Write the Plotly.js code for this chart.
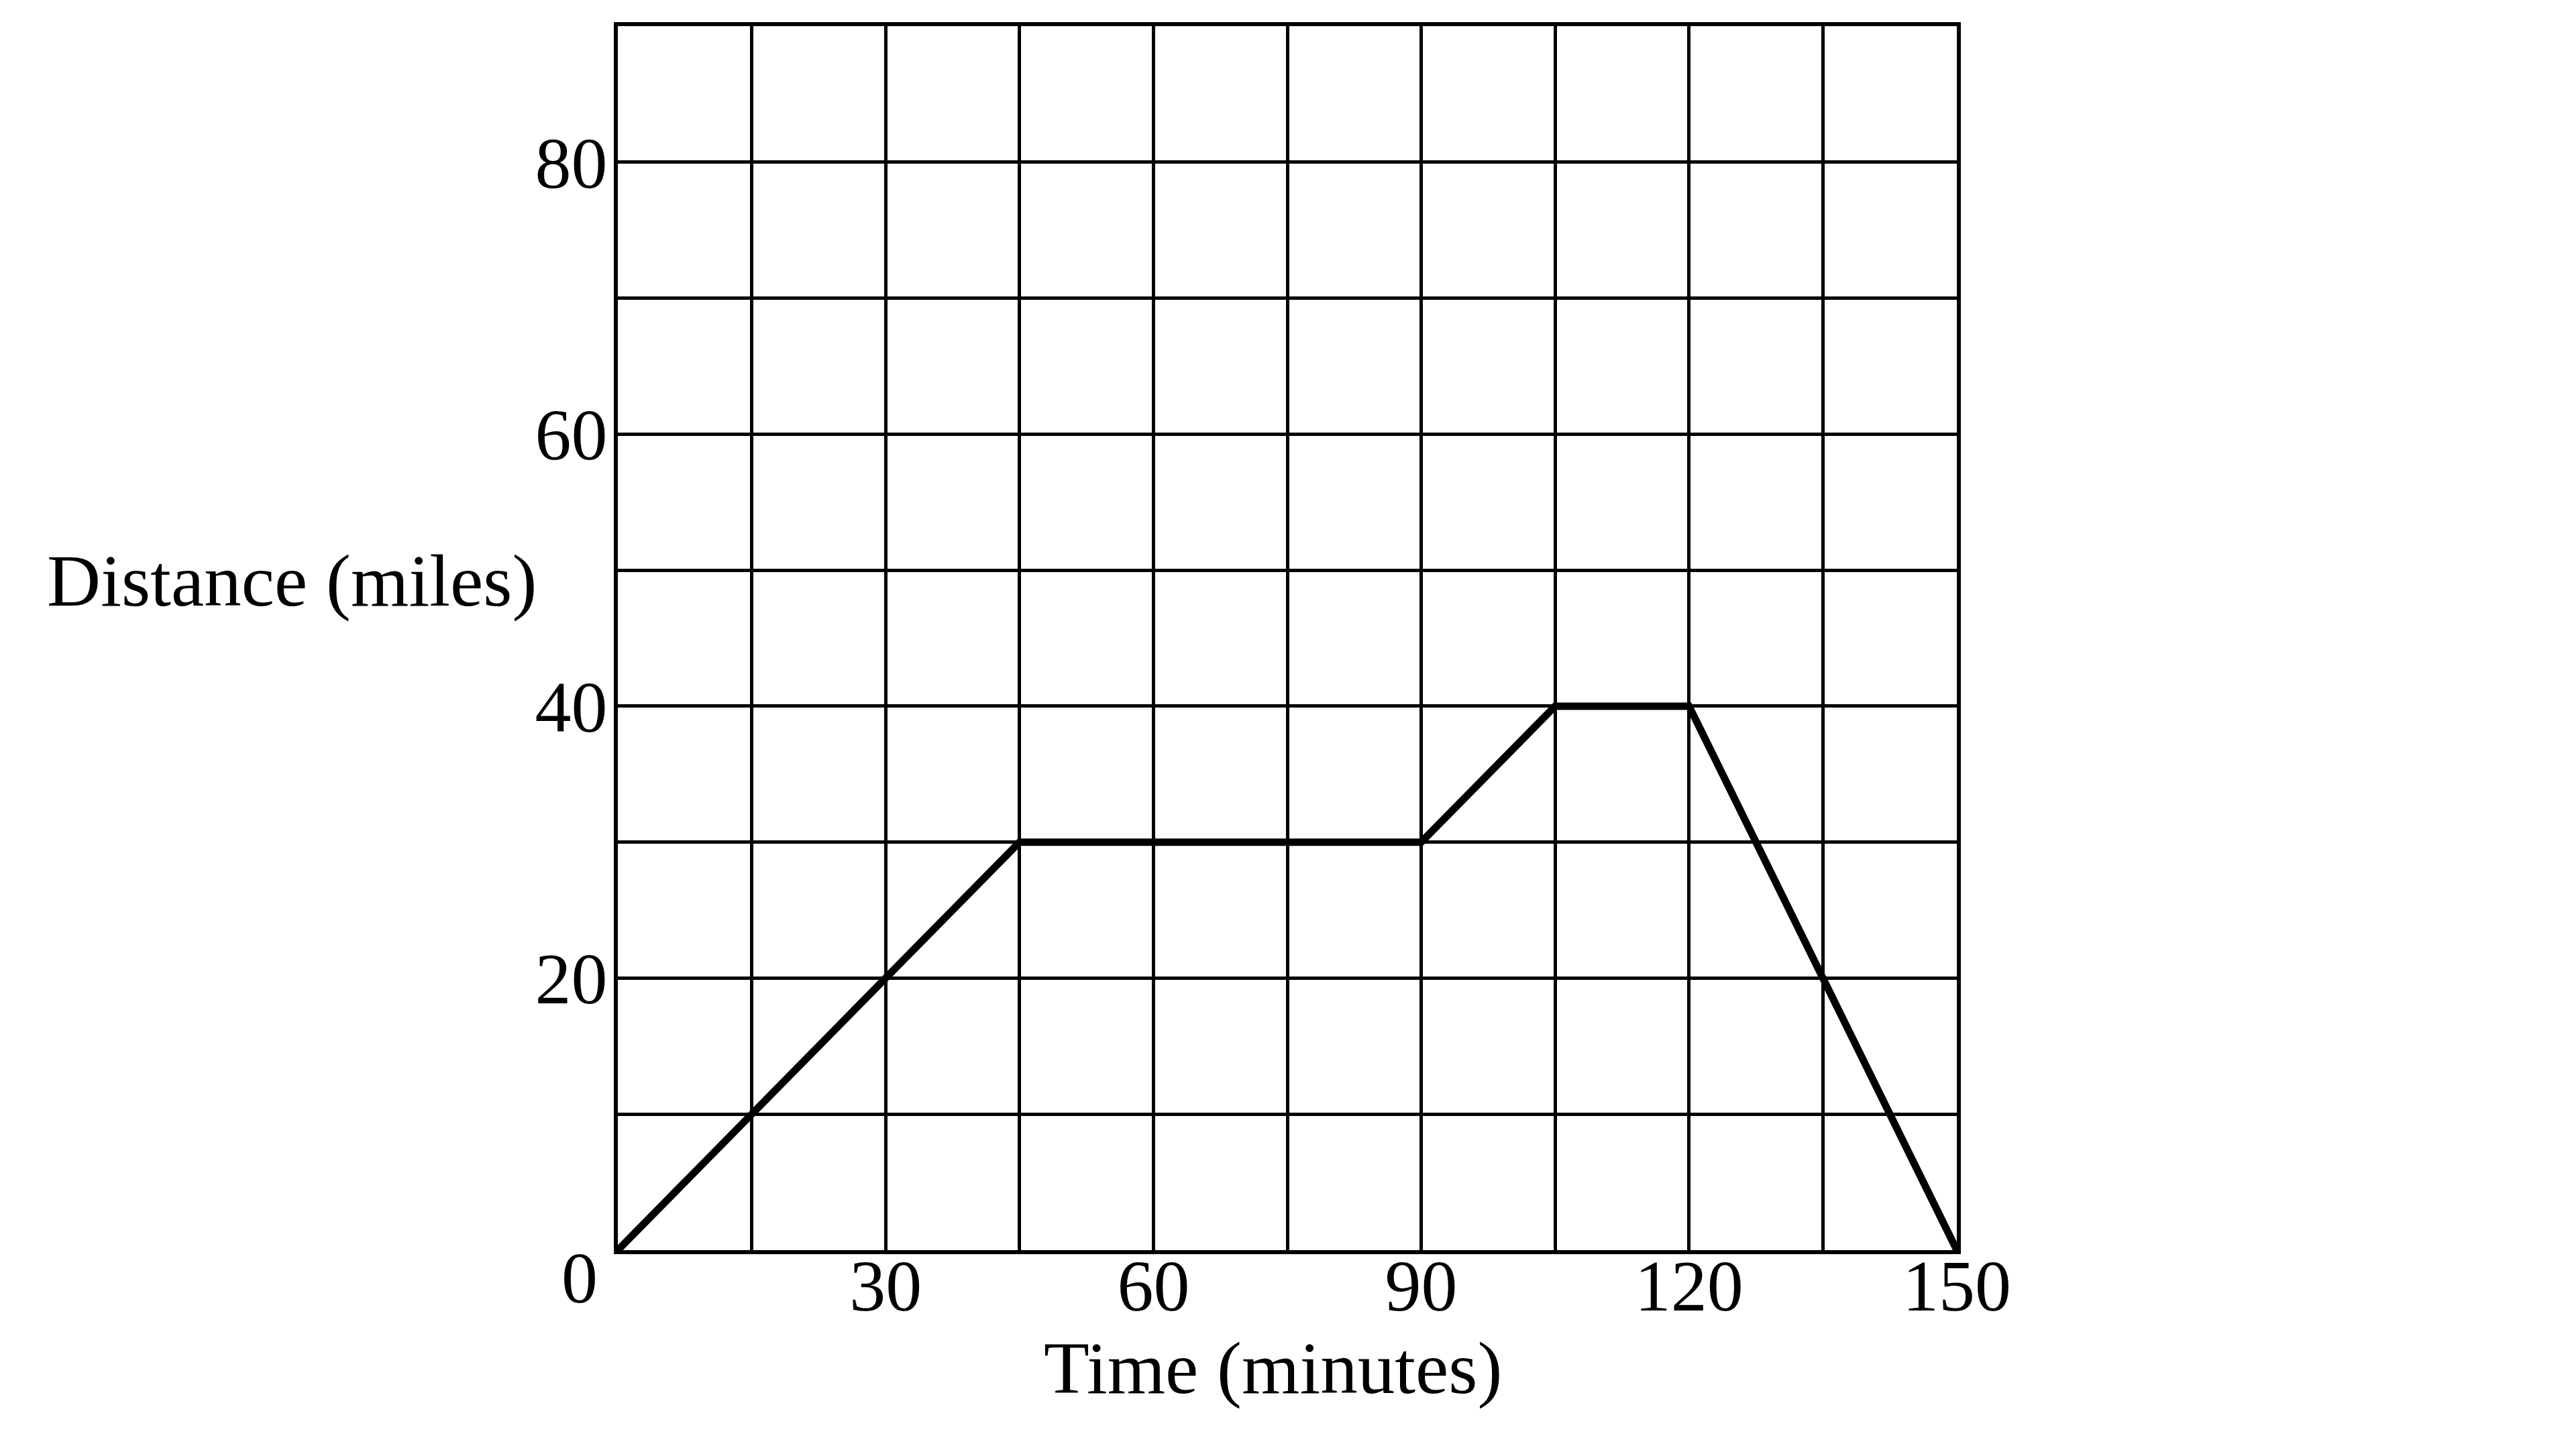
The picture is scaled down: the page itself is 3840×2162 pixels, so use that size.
<!DOCTYPE html>
<html>
<head>
<meta charset="utf-8">
<script src="https://cdn.plot.ly/plotly-3.0.1.min.js"></script>
<style>html,body{margin:0;padding:0;background:#fff;}#chart{width:3840px;height:2162px;}</style>
</head>
<body>
<div id="chart"></div>
<script>
// Data
const timeMinutes = [0, 45, 90, 105, 120, 150];
const distanceMiles = [0, 30, 30, 40, 40, 0];
const xTickVals = [30, 60, 90, 120, 150];
const xTickText = ['30', '60', '90', '120', '150'];
const yTickVals = [20, 40, 60, 80];
const yTickText = ['20', '40', '60', '80'];
const originLabel = '0';
const xTitle = 'Time (minutes)';
const yTitle = 'Distance (miles)';

const FONT = 'Liberation Serif, Times New Roman, serif';
const FS = 108;

const trace = {
  x: timeMinutes,
  y: distanceMiles,
  type: 'scatter',
  mode: 'lines',
  line: {color: '#000', width: 11},
  cliponaxis: false,
  hoverinfo: 'skip'
};

const layout = {
  width: 3840,
  height: 2162,
  margin: {l: 921, r: 923, t: 39, b: 298},
  paper_bgcolor: '#fff',
  plot_bgcolor: '#fff',
  showlegend: false,
  font: {family: FONT, size: FS, color: '#000'},
  xaxis: {
    range: [0, 150],
    tickmode: 'array',
    tickvals: xTickVals,
    ticktext: xTickText,
    ticks: '',
    ticklabelstandoff: -46,
    showgrid: true,
    gridcolor: '#000',
    gridwidth: 5,
    minor: {dtick: 15, tick0: 0, showgrid: true, gridcolor: '#000', gridwidth: 5},
    showline: true,
    linecolor: '#000',
    linewidth: 6,
    mirror: true,
    zeroline: false,
    fixedrange: true,
    tickfont: {family: FONT, size: FS, color: '#000'}
  },
  yaxis: {
    range: [0, 90],
    tickmode: 'array',
    tickvals: yTickVals,
    ticktext: yTickText,
    ticks: '',
    ticklabelstandoff: -12,
    showgrid: true,
    gridcolor: '#000',
    gridwidth: 5,
    minor: {dtick: 10, tick0: 0, showgrid: true, gridcolor: '#000', gridwidth: 5},
    showline: true,
    linecolor: '#000',
    linewidth: 6,
    mirror: true,
    zeroline: false,
    fixedrange: true,
    tickfont: {family: FONT, size: FS, color: '#000'}
  },
  annotations: [
    {text: yTitle, xref: 'paper', yref: 'paper', x: -0.059, y: 0.547, xanchor: 'right', yanchor: 'middle', showarrow: false, font: {family: FONT, size: 111, color: '#000'}},
    {text: xTitle, xref: 'paper', yref: 'paper', x: 0.4895, y: -0.0964, xanchor: 'center', yanchor: 'middle', showarrow: false, font: {family: FONT, size: 111, color: '#000'}},
    {text: originLabel, xref: 'paper', yref: 'paper', x: -0.0286, y: -0.0225, xanchor: 'center', yanchor: 'middle', showarrow: false, font: {family: FONT, size: FS, color: '#000'}}
  ]
};

Plotly.newPlot('chart', [trace], layout, {staticPlot: true, displayModeBar: false});
</script>
</body>
</html>
